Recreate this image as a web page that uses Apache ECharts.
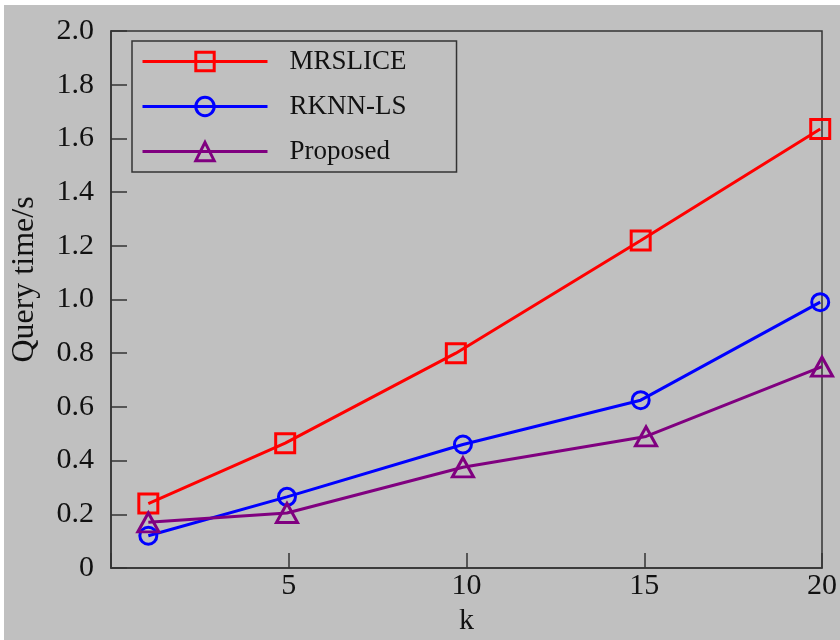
<!DOCTYPE html>
<html>
<head>
<meta charset="utf-8">
<script src="https://cdn.jsdelivr.net/npm/echarts@6/dist/echarts.min.js"></script>
<style>
  html, body { margin: 0; padding: 0; background: #ffffff; }
  #chart { position: absolute; left: 4px; top: 5px; width: 836px; height: 635px; background: #c0c0c0; }
</style>
</head>
<body>
<div id="chart"></div>
<script>
// Query time versus k for three methods
const seriesNames = ['MRSLICE', 'RKNN-LS', 'Proposed'];
const kMrslice = [1.05, 4.9, 9.7, 14.9, 19.95];
const tMrslice = [0.24, 0.465, 0.80, 1.22, 1.635];
const kRknn = [1.05, 4.95, 9.9, 14.9, 19.95];
const tRknn = [0.12, 0.265, 0.46, 0.625, 0.99];
const kProposed = [1.05, 4.95, 9.9, 15.05, 20];
const tProposed = [0.17, 0.205, 0.375, 0.49, 0.75];
const xTicks = [5, 10, 15, 20];

const FONT = 'Liberation Serif';
const pair = (xs, ys) => xs.map((x, i) => [x, ys[i]]);

function makeSeries(name, data, color, symbol, size) {
  return {
    name: name,
    type: 'line',
    data: data,
    symbol: symbol,
    symbolSize: size,
    lineStyle: { color: color, width: 3 },
    itemStyle: { color: 'rgba(0,0,0,0)', borderColor: color, borderWidth: 3 },
    emphasis: { disabled: true },
    z: 3
  };
}

const chart = echarts.init(document.getElementById('chart'), null, { renderer: 'canvas' });
chart.setOption({
  animation: false,
  backgroundColor: '#c0c0c0',
  grid: {
    left: 107, right: 18, top: 26, bottom: 72,
    outerBoundsMode: 'none',
    containLabel: false,
    show: true, borderColor: '#333333', borderWidth: 1.5, backgroundColor: 'transparent'
  },
  legend: {
    orient: 'vertical',
    left: 128, top: 36,
    data: seriesNames,
    itemWidth: 125, itemHeight: 23, itemGap: 18,
    padding: [7, 50, 7, 9],
    borderColor: '#333333', borderWidth: 1.5,
    lineStyle: { width: 3 },
    itemStyle: { borderWidth: 3 },
    textStyle: { fontFamily: FONT, fontSize: 27, color: '#111111', padding: [0, 0, 0, 17] }
  },
  xAxis: {
    type: 'value',
    min: 0, max: 20, interval: 5,
    name: 'k', nameLocation: 'middle', nameGap: 36,
    nameTextStyle: { fontFamily: FONT, fontSize: 30, color: '#111111' },
    axisLine: { show: true, lineStyle: { color: '#333333', width: 1.5 } },
    axisTick: { show: true, inside: true, length: 15, lineStyle: { color: '#333333', width: 1.5 } },
    axisLabel: {
      fontFamily: FONT, fontSize: 30, color: '#111111', margin: 3,
      formatter: v => (xTicks.indexOf(v) >= 0 ? String(v) : '')
    },
    splitLine: { show: false }
  },
  yAxis: {
    type: 'value',
    min: 0, max: 2.0, interval: 0.2,
    name: 'Query time/s', nameLocation: 'middle', nameGap: 70, nameRotate: 90,
    nameTextStyle: { fontFamily: FONT, fontSize: 32, color: '#111111', padding: [0, 0, 0, 40] },
    axisLine: { show: true, lineStyle: { color: '#333333', width: 1.5 } },
    axisTick: { show: true, inside: true, length: 16, lineStyle: { color: '#333333', width: 1.5 } },
    axisLabel: {
      fontFamily: FONT, fontSize: 30, color: '#111111', margin: 17,
      formatter: v => (v === 0 ? '0' : v.toFixed(1))
    },
    splitLine: { show: false }
  },
  series: [
    makeSeries(seriesNames[0], pair(kMrslice, tMrslice), '#ff0000', 'rect', 19),
    makeSeries(seriesNames[1], pair(kRknn, tRknn), '#0000ff', 'circle', 17),
    makeSeries(seriesNames[2], pair(kProposed, tProposed), '#800080', 'triangle', [21, 19])
  ]
});
</script>
</body>
</html>
